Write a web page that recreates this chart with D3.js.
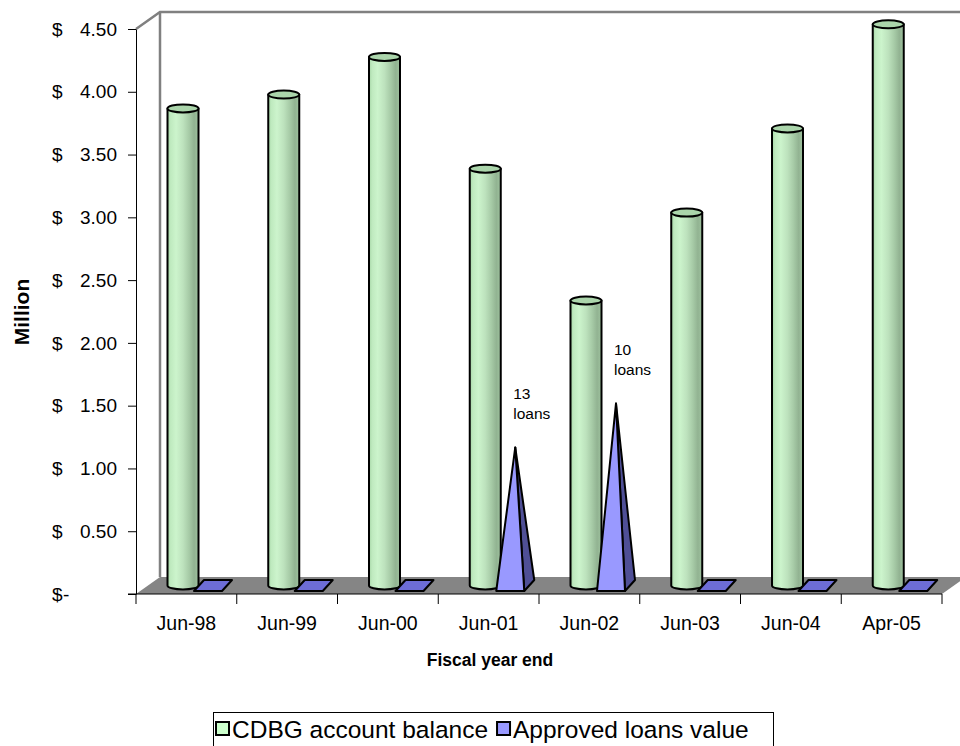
<!DOCTYPE html>
<html>
<head>
<meta charset="utf-8">
<script src="https://cdn.jsdelivr.net/npm/d3@7"></script>
<style>
  html, body { margin: 0; padding: 0; background: #fff; }
  svg { display: block; font-family: Arial, "Liberation Sans", sans-serif; }
</style>
</head>
<body>
<svg id="chart" width="960" height="746"></svg>
<script>
// Fiscal-year balances and approved loans (millions of dollars)
const categories = ["Jun-98", "Jun-99", "Jun-00", "Jun-01", "Jun-02", "Jun-03", "Jun-04", "Apr-05"];
const balance = [3.80, 3.91, 4.21, 3.32, 2.27, 2.97, 3.64, 4.47];
const loans = [0, 0, 0, 1.10, 1.45, 0, 0, 0];
const loanNotes = [[], [], [], ["13", "loans"], ["10", "loans"], [], [], []];
const seriesNames = ["CDBG account balance", "Approved loans value"];
const yTicks = [0, 0.5, 1, 1.5, 2, 2.5, 3, 3.5, 4, 4.5];
const yTickLabels = ["$-", "$0.50", "$1.00", "$1.50", "$2.00", "$2.50", "$3.00", "$3.50", "$4.00", "$4.50"];
const xTitle = "Fiscal year end";
const yTitle = "Million";

(function draw() {
  const svg = d3.select("#chart");
  const defs = svg.append("defs");

  // Oblique projection used for the 3-D box
  const pLeft = 136, pRight = 942, floorFront = 594, pTop = 29;
  const depth = { dx: 24, dy: -17 };
  const mid = { dx: 12, dy: -8.5 };

  const yFront = d3.scaleLinear().domain([0, 4.5]).range([floorFront, pTop]);
  const yMid = d3.scaleLinear().domain([0, 4.5]).range([floorFront + mid.dy, pTop + mid.dy]);
  const x0 = d3.scaleBand().domain(categories).range([pLeft, pRight]).padding(0);
  const x1 = d3.scaleBand().domain(seriesNames).range([20, 80]).padding(0);

  const green = "#ccffcc", blue = "#9999ff";
  const grad = defs.append("linearGradient").attr("id", "cyl").attr("x1", 0).attr("x2", 1).attr("y1", 0).attr("y2", 0);
  [[0, "#a6d6a6"], [0.1, "#bfeabf"], [0.28, "#ccf4cc"], [0.5, "#bde2bd"], [0.7, "#a6caa6"], [0.86, "#92b392"], [1, "#9ec29e"]]
    .forEach(([o, c]) => grad.append("stop").attr("offset", o).attr("stop-color", c));

  // Back wall and side edges
  const wall = svg.append("g").attr("stroke", "#808080").attr("stroke-width", 2.5).attr("fill", "none");
  wall.append("path").attr("d", `M${pLeft},${pTop} L${pLeft + depth.dx},${pTop + depth.dy} L${pRight + depth.dx + 20},${pTop + depth.dy}`);
  wall.append("line").attr("x1", pLeft + depth.dx).attr("x2", pLeft + depth.dx)
    .attr("y1", pTop + depth.dy).attr("y2", floorFront + depth.dy);

  // Floor
  svg.append("path")
    .attr("d", `M${pLeft},${floorFront} L${pRight},${floorFront} L${pRight + depth.dx},${floorFront + depth.dy} L${pLeft + depth.dx},${floorFront + depth.dy} Z`)
    .attr("fill", "#858585");

  // Y axis (front edge)
  const yAxis = d3.axisLeft(yFront).tickValues(yTicks).tickFormat("").tickSize(8).tickSizeOuter(0);
  const gy = svg.append("g").attr("transform", `translate(${pLeft},0)`).call(yAxis);
  gy.selectAll("path, line").attr("stroke", "#000");

  // Accounting-style labels: currency sign flush left, amount flush right
  const yLab = svg.append("g").attr("font-size", 19).attr("fill", "#000");
  yTicks.forEach((t, i) => {
    const lab = yTickLabels[i];
    const num = lab.slice(1);
    const y = yFront(t);
    yLab.append("text").attr("x", 52).attr("y", y).attr("dy", "0.35em").text("$");
    if (num === "-") {
      yLab.append("text").attr("x", 63).attr("y", y).attr("dy", "0.35em").text(num);
    } else {
      yLab.append("text").attr("x", 117).attr("y", y).attr("dy", "0.35em").attr("text-anchor", "end").text(num);
    }
  });

  // X axis (front edge)
  svg.append("line").attr("x1", pLeft - 8).attr("x2", pRight).attr("y1", floorFront).attr("y2", floorFront).attr("stroke", "#000");
  const bounds = categories.map(c => x0(c)).concat([pRight]);
  svg.append("g").selectAll("line").data(bounds).join("line")
    .attr("x1", d => d).attr("x2", d => d).attr("y1", floorFront).attr("y2", floorFront + 10).attr("stroke", "#000");
  const xAxis = d3.axisBottom(x0).tickSize(0).tickPadding(0);
  const gx = svg.append("g").attr("transform", `translate(0,${floorFront})`).call(xAxis);
  gx.select(".domain").remove();
  gx.selectAll("text").attr("font-size", 19.5).attr("font-family", "Arial, 'Liberation Sans', sans-serif")
    .attr("fill", "#000").attr("y", 29).attr("dy", "0.35em");

  // Axis titles
  svg.append("text").attr("x", 490).attr("y", 660).attr("dy", "0.35em").attr("text-anchor", "middle")
    .attr("font-size", 17.5).attr("font-weight", "bold").text(xTitle);
  svg.append("text").attr("transform", "translate(22,312) rotate(-90)").attr("dy", "0.35em").attr("text-anchor", "middle")
    .attr("font-size", 21).attr("font-weight", "bold").text(yTitle);

  // Bars
  const bars = svg.append("g");
  const cylR = 15.5, ry = 4;
  const pyrHalf = 14, pyrDepth = { dx: 5, dy: -5.5 };

  categories.forEach((c, i) => {
    // cylinder
    const cx = x0(c) + x1(seriesNames[0]) + x1.bandwidth() / 2 + mid.dx;
    const yb = yMid(0), yt = yMid(balance[i]);
    const g = bars.append("g").attr("stroke", "#000").attr("stroke-width", 2).attr("stroke-linejoin", "round");
    g.append("path")
      .attr("d", `M${cx - cylR},${yt} L${cx - cylR},${yb} A${cylR},${ry} 0 0 0 ${cx + cylR},${yb} L${cx + cylR},${yt} Z`)
      .attr("fill", "url(#cyl)");
    g.append("ellipse").attr("cx", cx).attr("cy", yt).attr("rx", cylR).attr("ry", ry).attr("fill", "#abd5ab");

    // pyramid
    const px = x0(c) + x1(seriesNames[1]) + x1.bandwidth() / 2 + mid.dx;
    const py = yMid(0);
    const FL = [px - pyrHalf - pyrDepth.dx, py - pyrDepth.dy];
    const FR = [px + pyrHalf - pyrDepth.dx, py - pyrDepth.dy];
    const BR = [px + pyrHalf + pyrDepth.dx, py + pyrDepth.dy];
    const BL = [px - pyrHalf + pyrDepth.dx, py + pyrDepth.dy];
    const apex = [px, yMid(loans[i])];
    const pg = bars.append("g").attr("stroke", "#000").attr("stroke-width", 2).attr("stroke-linejoin", "round");
    if (loans[i] === 0) {
      pg.append("path").attr("d", "M" + [FL, FR, BR, BL].join("L") + "Z").attr("fill", "#6d6dd6");
    } else {
      pg.append("path").attr("d", "M" + [FR, BR, apex].join("L") + "Z").attr("fill", "#4f4f96");
      pg.append("path").attr("d", "M" + [FL, FR, apex].join("L") + "Z").attr("fill", blue);
      const note = svg.append("text").attr("font-size", 15.5).attr("fill", "#000");
      loanNotes[i].forEach((line, k) => {
        note.append("tspan").attr("x", apex[0] - 2).attr("y", apex[1] - 54 + k * 20).attr("dy", "0.35em").text(line);
      });
    }
  });

  // Legend: swatch + label pairs laid out left to right
  const lg = svg.append("g");
  lg.append("rect").attr("x", 213.5).attr("y", 712.5).attr("width", 560).attr("height", 40)
    .attr("fill", "#fff").attr("stroke", "#000").attr("stroke-width", 1);
  let lx = 216;
  seriesNames.forEach((s, i) => {
    lg.append("rect").attr("x", lx).attr("y", 722).attr("width", 13).attr("height", 13)
      .attr("fill", i === 0 ? green : blue).attr("stroke", "#000").attr("stroke-width", 2);
    const t = lg.append("text").attr("x", lx + 16).attr("y", 729).attr("dy", "0.35em")
      .attr("font-size", 24.5).text(s);
    lx += 16 + t.node().getComputedTextLength() + 9;
  });
})();
</script>
</body>
</html>
